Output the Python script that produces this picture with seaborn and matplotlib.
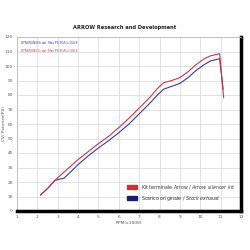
import pandas as pd
import numpy as np
import matplotlib
matplotlib.use("Agg")
import matplotlib.pyplot as plt
import matplotlib.patches as mpatches
import seaborn as sns

# Kit terminale Arrow (red)
rpm_arrow = [2.15, 2.5, 2.85, 3.2, 3.6, 4.0, 4.5, 5.0, 5.5, 6.0, 6.5, 7.0, 7.5, 7.9,
             8.2, 8.6, 9.0, 9.4, 9.8, 10.2, 10.5, 10.8, 10.95, 11.15]
ps_arrow = [11, 15.5, 21, 25.5, 30.5, 35.5, 41, 46.5, 51.5, 57.5, 64, 71, 78, 84.5,
            88.5, 90, 92, 96, 101, 105, 107, 108, 108.5, 78]

# Scarico originale (blue)
rpm_stock = [2.15, 2.5, 2.85, 3.1, 3.3, 3.6, 4.0, 4.5, 5.0, 5.5, 6.0, 6.5, 7.0, 7.5, 7.9,
             8.2, 8.6, 9.0, 9.4, 9.8, 10.2, 10.5, 10.8, 10.95, 11.12]
ps_stock = [11, 15.5, 21, 22, 22.5, 26.5, 32, 38, 43.5, 48.5, 54, 60, 67, 74, 80,
            84, 86, 88, 92, 97, 101, 103.5, 104.5, 105, 84]

x_ticks = list(range(1, 13))
y_ticks = list(range(0, 121, 10))

labels = ["Kit terminale Arrow / $\\it{Arrow\\ silencer\\ kit}$",
          "Scarico originale / $\\it{Stock\\ exhaust}$"]
red = "#c8344e"
blue = "#3a3a98"

df = pd.concat([
    pd.DataFrame({"rpm": rpm_stock, "ps": ps_stock, "run": "stock"}),
    pd.DataFrame({"rpm": rpm_arrow, "ps": ps_arrow, "run": "arrow"}),
])

sns.set_style("white")
fig = plt.figure(figsize=(2.5, 2.5), dpi=100)
ax = fig.add_axes([0.068, 0.156, 0.896, 0.696])

sns.lineplot(data=df, x="rpm", y="ps", hue="run", palette={"stock": blue, "arrow": red},
             linewidth=0.8, sort=False, estimator=None, legend=False, ax=ax)

ax.set_xlim(1, 12)
ax.set_ylim(0, 120)
ax.set_xticks(x_ticks)
ax.set_yticks(y_ticks)
ax.tick_params(labelsize=3.2, labelcolor="#555555", length=0, pad=3)
ax.grid(True, color="#dddddd", linewidth=0.6)
ax.set_axisbelow(True)

for side in ["left", "top"]:
    ax.spines[side].set_color("#bbbbbb")
    ax.spines[side].set_linewidth(0.6)
for side in ["right", "bottom"]:
    ax.spines[side].set_color("black")
    ax.spines[side].set_linewidth(2.5)

ax.set_xlabel("RPM(x1000)", fontsize=3.2, color="#555555", labelpad=1)
ax.set_ylabel("CV/ Potenza(PS)", fontsize=3.2, color="#555555")
ax.yaxis.set_label_coords(-0.05, 0.5)

ax.text(1.2, 115.5, "DYNORUN006.dat  Max PS(SGR)=104.8", fontsize=2.1, color=blue)
ax.text(1.2, 110, "DYNORUN011.dat  Max PS(SGR)=108.6", fontsize=2.1, color=red)

fig.suptitle("ARROW Research and Development", fontsize=3.7, fontweight="bold",
             color="#222222", x=0.5, y=0.9)

handles = [mpatches.Patch(color="#d03030"), mpatches.Patch(color="#1c1c6e")]
leg = ax.legend(handles, labels, loc="lower right", fontsize=3.4, frameon=False,
                handlelength=2.2, handleheight=0.9, borderaxespad=0.6,
                labelspacing=0.5, bbox_to_anchor=(0.995, 0.02))
for t in leg.get_texts():
    t.set_color("#333333")

plt.savefig("out.png", dpi=100)
